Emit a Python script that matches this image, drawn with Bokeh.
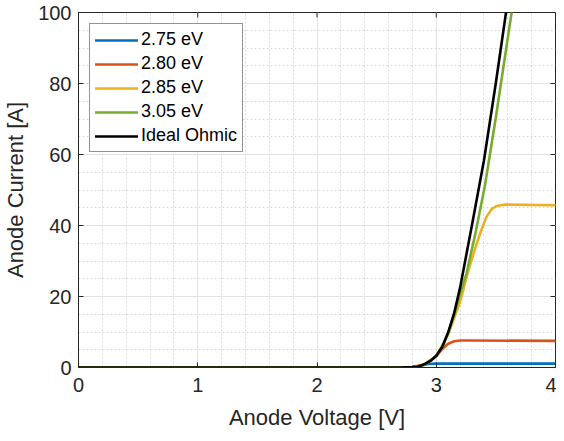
import math
from bokeh.plotting import figure
from bokeh.models import Range1d, FixedTicker, Legend, LegendItem
from bokeh.embed import file_html
from bokeh.resources import INLINE

# ---- data ----
v_275 = [0, 2.7, 2.8, 2.88, 2.93, 3.0, 4.0]
i_275 = [0, 0, 0.1, 0.6, 1.0, 1.1, 1.1]

v_280 = [0, 2.7, 2.8, 2.9, 3.0, 3.05, 3.1, 3.15, 3.2, 3.3, 4.0]
i_280 = [0, 0, 0.1, 0.8, 3.1, 5.2, 6.7, 7.4, 7.6, 7.6, 7.5]

v_285 = [0, 2.7, 2.8, 2.9, 3.0, 3.1, 3.2, 3.262, 3.295, 3.337, 3.379, 3.422, 3.464, 3.506, 3.576, 4.0]
i_285 = [0, 0, 0.1, 0.8, 3.2, 9.3, 18.5, 26.4, 30.1, 34.7, 38.8, 42.5, 44.6, 45.5, 45.9, 45.7]

v_305 = [0, 2.7, 2.8, 2.85, 2.9, 2.96, 3.0, 3.05, 3.1, 3.15, 3.2, 3.253, 3.33, 3.408, 3.5, 3.632]
i_305 = [0, 0, 0.1, 0.3, 0.9, 2.1, 3.3, 5.7, 9.6, 14.6, 20.8, 26.4, 38, 51.2, 70.5, 100]

v_ohm = [0, 2.7, 2.8, 2.85, 2.9, 2.96, 3.0, 3.05, 3.1, 3.15, 3.2, 3.3, 3.4, 3.5, 3.585]
i_ohm = [0, 0, 0.1, 0.3, 0.9, 2.1, 3.3, 5.8, 9.9, 15.3, 22.5, 40.2, 58.3, 80.2, 100]

labels = ["2.75 eV", "2.80 eV", "2.85 eV", "3.05 eV", "Ideal Ohmic"]
colors = ["#0072BD", "#D95319", "#EDB120", "#77AC30", "#000000"]

x_ticks = [0, 1, 2, 3, 4]
y_ticks = [0, 20, 40, 60, 80, 100]
x_minor = [i * 0.2 for i in range(21)]
y_minor = [i * 5 for i in range(21)]

FONT = "Liberation Sans"
TXT = "#262626"

p = figure(width=556, height=432, output_backend="svg", toolbar_location=None,
           x_range=Range1d(0, 4), y_range=Range1d(0, 100),
           min_border_left=74, min_border_right=1, min_border_top=12, min_border_bottom=0)
p.background_fill_color = "white"
p.border_fill_color = "white"
p.outline_line_color = TXT
p.outline_line_width = 1

# grids
for g in (p.xgrid[0], p.ygrid[0]):
    g.grid_line_color = "#e2e2e2"
    g.grid_line_width = 1
    g.minor_grid_line_color = "#d9d9d9"
    g.minor_grid_line_dash = "2 2"
    g.minor_grid_line_width = 1

series = [(v_275, i_275), (v_280, i_280), (v_285, i_285), (v_305, i_305), (v_ohm, i_ohm)]
items = []
for (vx, iy), lab, col in zip(series, labels, colors):
    r = p.line(vx, iy, line_color=col, line_width=2.6, line_join="round", line_cap="round")
    items.append(LegendItem(label=lab, renderers=[r]))

# axes
for ax, ticks, minor in ((p.xaxis[0], x_ticks, x_minor), (p.yaxis[0], y_ticks, y_minor)):
    ax.ticker = FixedTicker(ticks=ticks, minor_ticks=minor)
    ax.major_tick_in = 5
    ax.major_tick_out = 0
    ax.minor_tick_in = 0
    ax.minor_tick_out = 0
    ax.axis_line_color = TXT
    ax.major_tick_line_color = TXT
    ax.major_label_text_font = FONT
    ax.major_label_text_font_size = "20px"
    ax.major_label_text_color = TXT
    ax.axis_label_text_font = FONT
    ax.axis_label_text_font_size = "22px"
    ax.axis_label_text_font_style = "normal"
    ax.axis_label_text_color = TXT

p.xaxis.axis_label = "Anode Voltage [V]"
p.yaxis.axis_label = "Anode Current [A]"
p.xaxis.major_label_standoff = 10
p.xaxis.axis_label_standoff = 10
p.xaxis.axis_label_text_line_height = 1.0
p.xaxis.major_label_text_line_height = 1.0
p.yaxis.major_label_standoff = 7
p.yaxis.axis_label_standoff = 7

# box-style tick marks on the top and right edges, at the tick positions
p.ray(x=x_ticks, y=[y_ticks[-1]] * len(x_ticks), length=5, length_units="screen",
      angle=-math.pi / 2, line_color=TXT, line_width=1)
p.ray(x=[x_ticks[-1]] * len(y_ticks), y=y_ticks, length=5, length_units="screen",
      angle=math.pi, line_color=TXT, line_width=1)

legend = Legend(items=items, location="top_left")
legend.margin = 11
legend.padding = 5
legend.spacing = 3
legend.glyph_width = 43
legend.glyph_height = 20
legend.label_height = 20
legend.label_standoff = 3
legend.label_text_font = FONT
legend.label_text_font_size = "18px"
legend.label_text_color = "#000000"
legend.border_line_color = TXT
legend.border_line_width = 1
legend.background_fill_color = "white"
legend.background_fill_alpha = 1
p.add_layout(legend)

open("out.html", "w").write(file_html(p, INLINE))
